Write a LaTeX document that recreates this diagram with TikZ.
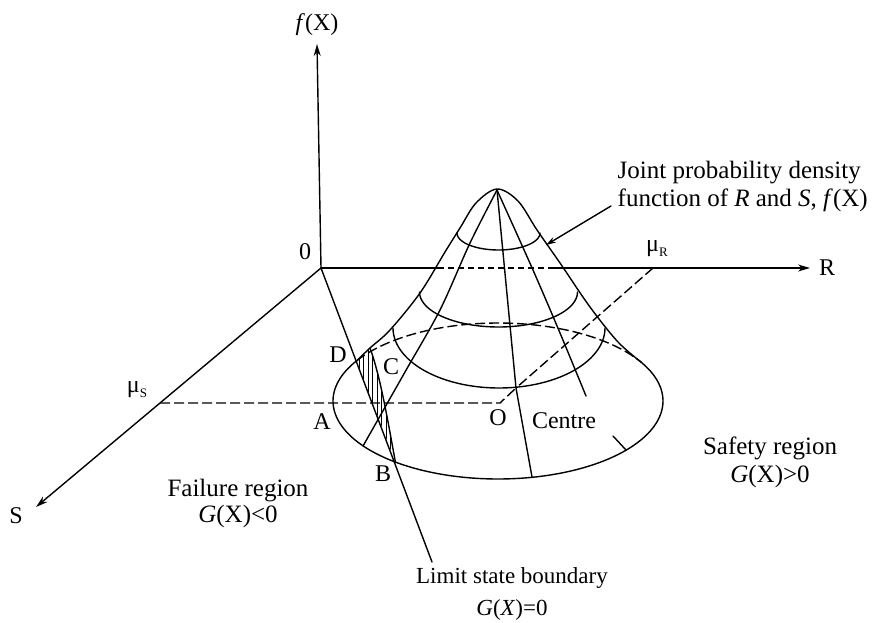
\documentclass[tikz,border=0pt]{standalone}
\usepackage{fontspec}
\setmainfont{Liberation Serif}
\usetikzlibrary{arrows.meta}
\begin{document}
\begin{tikzpicture}[x=1pt,y=-1pt,line width=1.4pt,line join=round,line cap=round,
  lbl/.style={font=\fontsize{24}{26}\selectfont,inner sep=0pt},
  hid/.style={line cap=butt,dash pattern=on 10pt off 4pt},
  hidfine/.style={line cap=butt,dash pattern=on 6pt off 4pt},
  axisarrow/.style={-{Stealth[length=12pt,width=7pt]}},
  hatchline/.style={line width=0.9pt},
  ptr/.style={-{Stealth[length=10pt,width=6pt]}}]
\useasboundingbox (0,0) rectangle (883,623);
% key points
\coordinate (orig) at (321,268);
\coordinate (ftip) at (317,44);
\coordinate (rl) at (438,268);
\coordinate (rr) at (553,268);
\coordinate (rtip) at (810,268);
\coordinate (musp) at (160,403);
\coordinate (stip) at (36,507);
\coordinate (murp) at (653,268);
\coordinate (ctr) at (516,388);
\coordinate (mucorner) at (500,403);
\coordinate (limend) at (432,562);
\coordinate (D) at (356.5,361);
\coordinate (B) at (395.5,462.5);
\coordinate (peak) at (497,190);
\coordinate (lensTop) at (370,348);
% axes
\draw[axisarrow] (orig) -- (ftip);
\draw (orig) -- (rl);
\draw[hidfine] (rl) -- (rr);
\draw[axisarrow] (rr) -- (rtip);
\draw[axisarrow] (orig) -- (musp) -- (stip);
% dashed construction lines
\draw[hid] (musp) -- (mucorner) -- (ctr);
\draw[hid] (murp) -- (ctr);
% limit state line
\draw (orig) -- (limend);
% base ellipse
\draw plot[domain=-30:211,samples=120,smooth] ({498+165*cos(\x)},{401+78*sin(\x)});
\draw[hid] plot[domain=211:330,samples=60,smooth] ({498+165*cos(\x)},{401+78*sin(\x)});
% silhouette of the density surface
\draw plot[smooth,tension=0.55] coordinates {(D) (lensTop) (390,330) (420,293) (445,252) (460,228) (476,203) (497,189) (518,201) (537,230) (560,263) (590,307) (618,342) (641,362)};
% meridians
\draw plot[smooth,tension=0.5] coordinates {(peak) (470,243) (440,310) (405,372) (363,446)};
\draw (peak) -- (ctr) -- (532,477);
\draw plot[smooth,tension=0.5] coordinates {(peak) (533,270) (560,333) (586,396)};
\draw (626,450) -- (613,436);
% rings
\draw plot[domain=0:180,samples=40,smooth] ({498.5+41.5*cos(\x)},{233+17*sin(\x)});
\draw plot[domain=0:180,samples=50,smooth] ({498.5+79*cos(\x)},{292+35*sin(\x)});
\draw plot[domain=0:180,samples=60,smooth] ({499+106*cos(\x)},{328+60*sin(\x)});
% hatched failure zone
\begin{scope}
\clip (D) -- (lensTop) .. controls (381,378) and (389,428) .. (B) -- cycle;
\foreach \hx in {350,354.5,...,400} \draw[hatchline] (\hx,340) -- (\hx,470);
\end{scope}
\draw (lensTop) .. controls (381,378) and (389,428) .. (B);
% pointer to the density surface
\coordinate (ptrstart) at (611,206);
\coordinate (ptrend) at (546,245);
\draw[ptr] (ptrstart) -- (ptrend);
% labels
\node[lbl] (flab) at (317,25) {\textit{f}(X)};
\node[lbl] (zero) at (305,252) {0};
\node[lbl] (rlab) at (827,268) {R};
\node[lbl] (slab) at (16,516) {S};
\node[lbl] (mus) at (137,390) {μ\raisebox{-0.2em}{\fontsize{13}{13}\selectfont S}};
\node[lbl] (mur) at (657,249) {μ\raisebox{-0.2em}{\fontsize{13}{13}\selectfont R}};
\node[lbl] (Dl) at (338,355) {D};
\node[lbl] (Cl) at (391,367) {C};
\node[lbl] (Al) at (322,422) {A};
\node[lbl] (Bl) at (383,474) {B};
\node[lbl] (Ol) at (498,418) {O};
\node[lbl] (cen) at (564,421) {Centre};
\node[lbl,align=center,font=\fontsize{25}{26}\selectfont] (fail) at (238,503) {Failure region\\\textit{G}(X)<0};
\node[lbl,align=center,font=\fontsize{25}{28}\selectfont] (safe) at (770,462) {Safety region\\\textit{G}(X)>0};
\node[lbl,align=center,font=\fontsize{23}{32}\selectfont] (lim) at (512,594) {Limit state boundary\\\textit{G}(\textit{X})=0};
\node[lbl,align=left,anchor=west,font=\fontsize{25}{28}\selectfont] (jpdf) at (617,186) {Joint probability density\\function of \textit{R} and \textit{S}, \textit{f}(X)};
\end{tikzpicture}
\end{document}
